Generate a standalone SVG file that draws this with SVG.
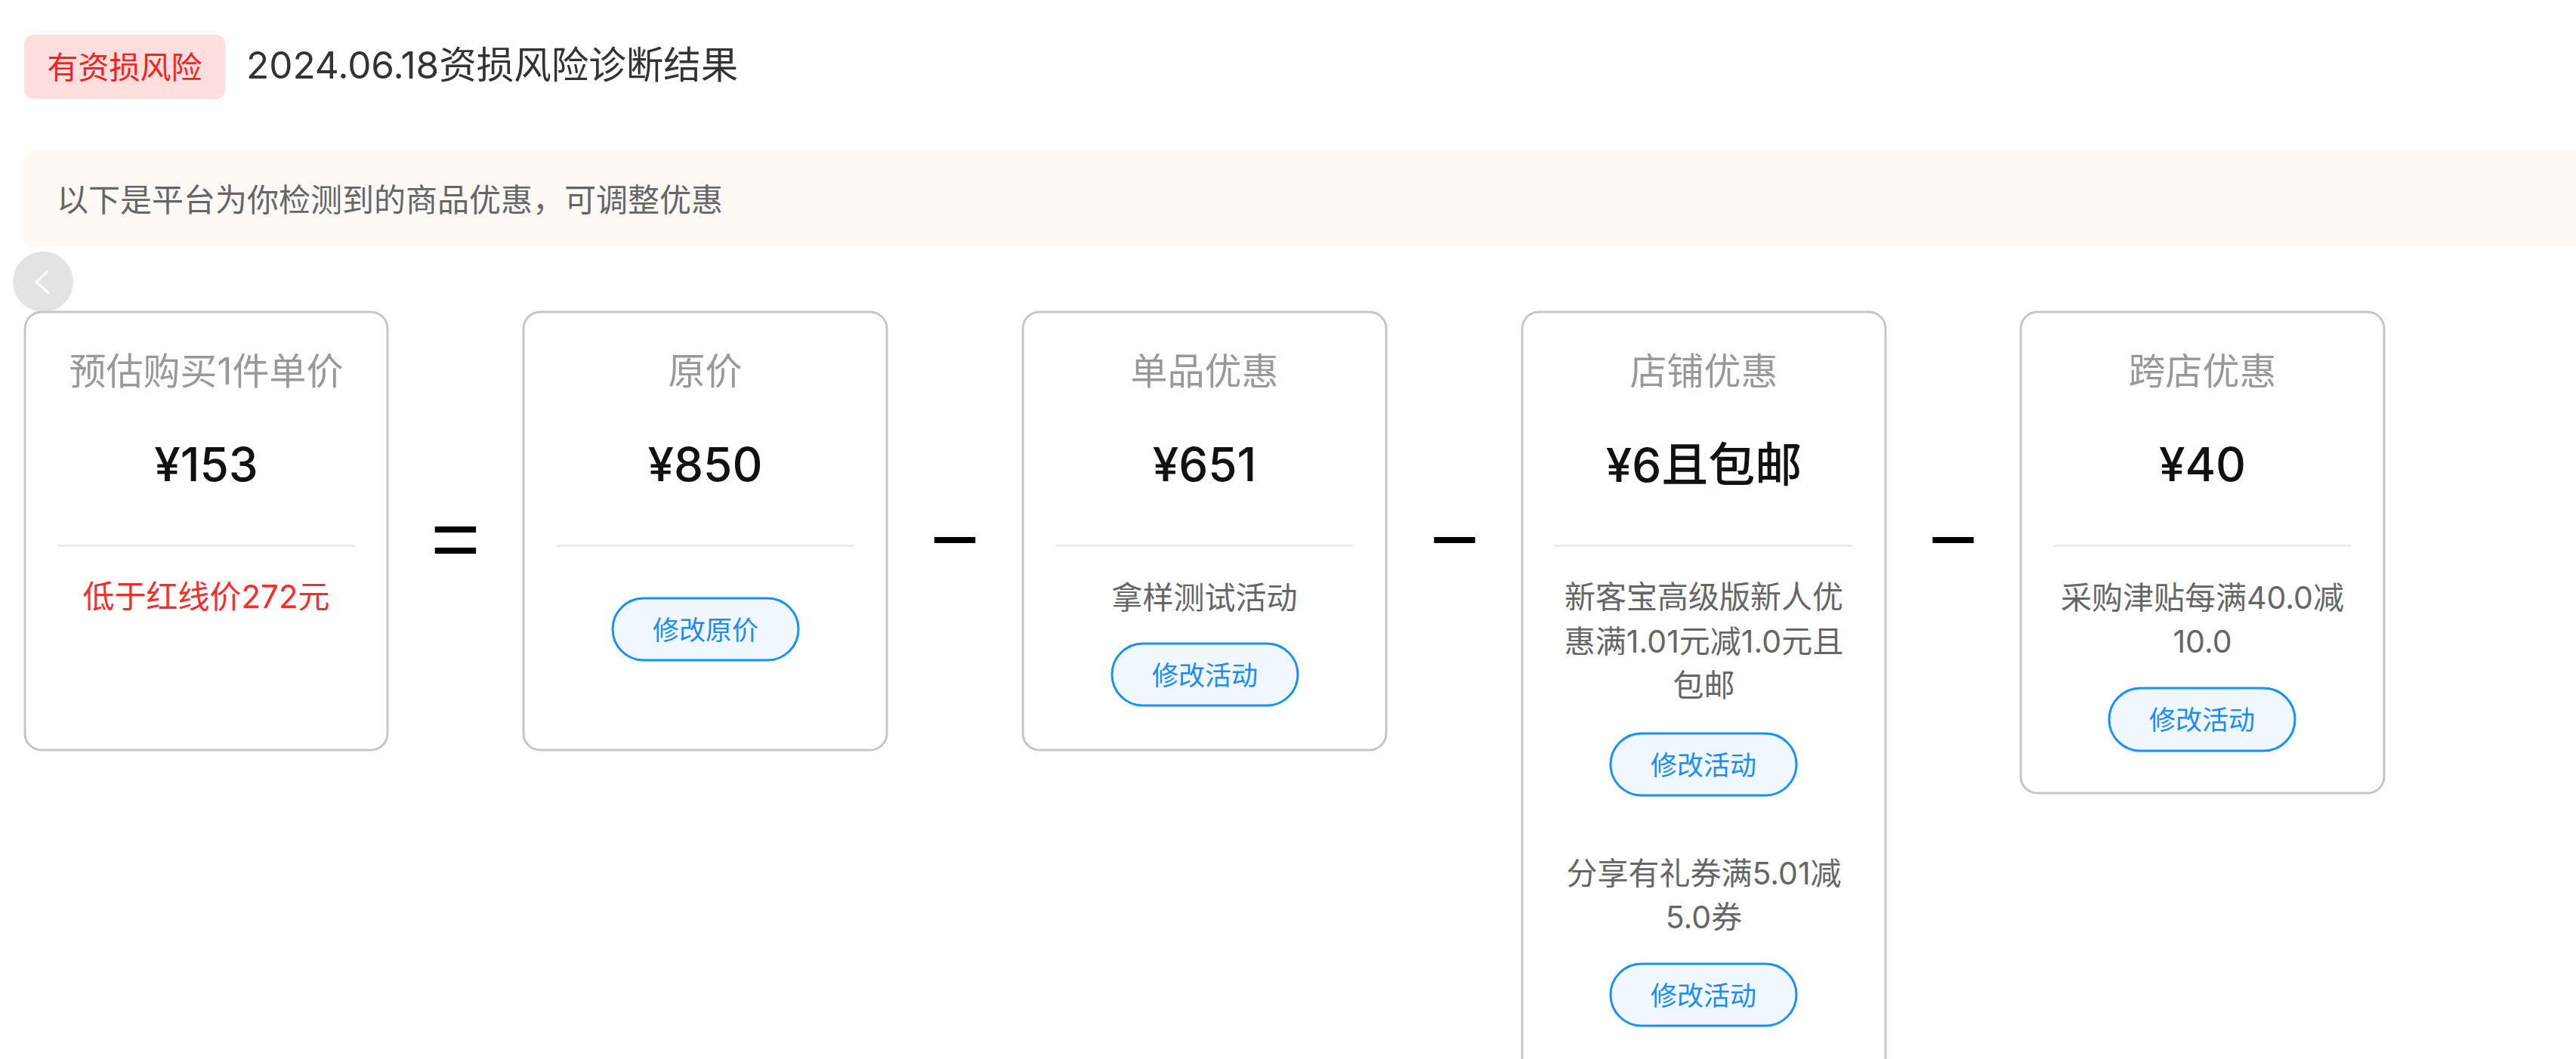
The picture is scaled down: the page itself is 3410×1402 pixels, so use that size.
<svg xmlns="http://www.w3.org/2000/svg" width="3410" height="1402" viewBox="0 0 3410 1402">
<style>
text{font-family:Inter,"Noto Sans CJK SC","Noto Sans",sans-serif}
.card{fill:#FFFFFF;stroke:#C6C6C6;stroke-width:3}
.ctitle{font-size:49px;fill:#999999;text-anchor:middle}
.price{font-size:62px;fill:#111111;text-anchor:middle;font-weight:500}
.div{stroke:#EBEBEB;stroke-width:3}
.desc{font-size:41px;fill:#666666;text-anchor:middle}
.red{font-size:42px;fill:#FF2B2B;text-anchor:middle}
.btn{fill:#F0F7FF;stroke:#1890FF;stroke-width:3}
.btxt{font-size:35px;fill:#1A8CFF;text-anchor:middle}
.op{font-family:"Liberation Sans",Arial,sans-serif;font-size:112px;fill:#000000;text-anchor:middle}
</style>
<rect x="0" y="0" width="3410" height="1402" fill="#FFFFFF"/>
<g id="header">
<rect x="32" y="46" width="266" height="85" rx="12" fill="#FFDEDE"/>
<text x="165" y="104" font-size="41" fill="#FF1F1F" text-anchor="middle">有资损风险</text>
<text x="326" y="104" font-size="49.5" fill="#333333">2024.06.18资损风险诊断结果</text>
</g>
<g id="banner">
<rect x="31" y="198" width="3420" height="129" rx="12" fill="#FFF9F6"/>
<text x="75" y="280" font-size="42" fill="#666666">以下是平台为你检测到的商品优惠，可调整优惠</text>
</g>
<g id="prev-button">
<circle cx="57" cy="373" r="40" fill="#E3E3E3"/>
<path d="M63.5,359 L48,373.5 L65,388.5" fill="none" stroke="#FFFFFF" stroke-width="3"/>
</g>
<g id="card-estimate">
<rect class="card" x="33" y="413" width="480" height="580" rx="22"/>
<text class="ctitle" x="273" y="509">预估购买1件单价</text>
<text class="price" x="273" y="637">¥153</text>
<line class="div" x1="76" y1="722.5" x2="470" y2="722.5"/>
<text class="red" x="273" y="805">低于红线价272元</text>
</g>
<g id="card-original">
<rect class="card" x="693" y="413" width="481" height="580" rx="22"/>
<text class="ctitle" x="933.5" y="509">原价</text>
<text class="price" x="933.5" y="637">¥850</text>
<line class="div" x1="737" y1="722.5" x2="1130" y2="722.5"/>
<rect class="btn" x="811" y="792" width="246" height="82" rx="41"/>
<text class="btxt" x="934" y="847">修改原价</text>
</g>
<g id="card-item">
<rect class="card" x="1354" y="413" width="481" height="580" rx="22"/>
<text class="ctitle" x="1594.5" y="509">单品优惠</text>
<text class="price" x="1594.5" y="637">¥651</text>
<line class="div" x1="1398" y1="722.5" x2="1791" y2="722.5"/>
<text class="desc" x="1594.5" y="806">拿样测试活动</text>
<rect class="btn" x="1472" y="852" width="246" height="82" rx="41"/>
<text class="btxt" x="1595" y="907">修改活动</text>
</g>
<g id="card-shop">
<rect class="card" x="2015" y="413" width="481" height="1040" rx="22"/>
<text class="ctitle" x="2255.5" y="509">店铺优惠</text>
<text class="price" x="2255.5" y="638">¥6且包邮</text>
<line class="div" x1="2058" y1="722.5" x2="2452" y2="722.5"/>
<text class="desc" x="2255.5" y="805">新客宝高级版新人优</text>
<text class="desc" x="2255.5" y="864">惠满1.01元减1.0元且</text>
<text class="desc" x="2255.5" y="922">包邮</text>
<rect class="btn" x="2132" y="971" width="246" height="82" rx="41"/>
<text class="btxt" x="2255" y="1026">修改活动</text>
<text class="desc" x="2255.5" y="1171">分享有礼券满5.01减</text>
<text class="desc" x="2255.5" y="1229">5.0券</text>
<rect class="btn" x="2132" y="1276" width="246" height="82" rx="41"/>
<text class="btxt" x="2255" y="1331">修改活动</text>
</g>
<g id="card-cross">
<rect class="card" x="2675" y="413" width="481" height="637" rx="22"/>
<text class="ctitle" x="2915.5" y="509">跨店优惠</text>
<text class="price" x="2915.5" y="637">¥40</text>
<line class="div" x1="2719" y1="722.5" x2="3112" y2="722.5"/>
<text class="desc" x="2915.5" y="806">采购津贴每满40.0减</text>
<text class="desc" x="2915.5" y="864">10.0</text>
<rect class="btn" x="2792" y="911" width="246" height="83" rx="41.5"/>
<text class="btxt" x="2915" y="966">修改活动</text>
</g>
<g id="connectors">
<text class="op" x="603" y="751.5">=</text>
<text class="op" x="1264" y="751.5">−</text>
<text class="op" x="1925.5" y="751.5">−</text>
<text class="op" x="2585.5" y="751.5">−</text>
</g>
</svg>
